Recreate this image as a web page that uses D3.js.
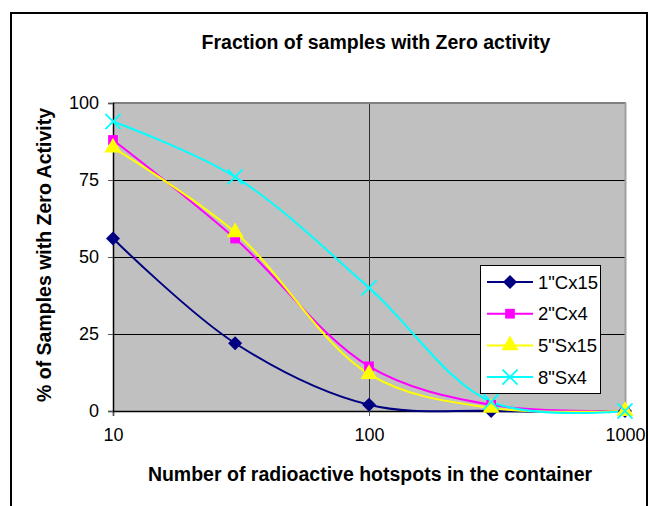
<!DOCTYPE html>
<html>
<head>
<meta charset="utf-8">
<script src="https://cdn.jsdelivr.net/npm/d3@7"></script>
<style>
  body { margin: 0; background: #fff; }
  svg { display: block; font-family: "Liberation Sans", Arial, sans-serif; }
</style>
</head>
<body>
<div id="chart"></div>
<script>
// Data
var xValues = [10, 30, 100, 300, 1000];
var seriesNames = ['1"Cx15', '2"Cx4', '5"Sx15', '8"Sx4'];
var cx15_1 = [56, 22, 2, 0, 0];
var cx4_2 = [88, 56, 14.5, 2, 0];
var sx15_5 = [85.5, 58, 12, 1, 0];
var sx4_8 = [94, 76, 40, 3, 0];
var xTicks = [10, 100, 1000];
var yTicks = [0, 25, 50, 75, 100];

var colors = ["#000080", "#ff00ff", "#ffff00", "#00ffff"];
var symbols = [d3.symbolDiamond2, d3.symbolSquare, d3.symbolTriangle, d3.symbolX];
var symSizes = [125, 95, 125, 150];

var series = [cx15_1, cx4_2, sx15_5, sx4_8].map(function(vals, i) {
  return { name: seriesNames[i], points: vals.map(function(v, j) { return [xValues[j], v]; }) };
});

var W = 650, H = 506;
var plot = { left: 113, top: 103, right: 625, bottom: 411 };

var svg = d3.select("#chart").append("svg")
  .attr("width", W).attr("height", H);

// outer frame
svg.append("rect")
  .attr("x", 11).attr("y", 13)
  .attr("width", 636).attr("height", 500)
  .attr("fill", "#fff").attr("stroke", "#000").attr("stroke-width", 2);

var x = d3.scaleLog().domain([10, 1000]).range([plot.left, plot.right]);
var y = d3.scaleLinear().domain([0, 100]).range([plot.bottom, plot.top]);

// plot area
svg.append("rect")
  .attr("x", plot.left).attr("y", plot.top)
  .attr("width", plot.right - plot.left).attr("height", plot.bottom - plot.top)
  .attr("fill", "#c0c0c0");

// gridlines
svg.append("g").selectAll("line")
  .data(yTicks.filter(function(d) { return d > 0 && d < 100; }))
  .enter().append("line")
  .attr("x1", plot.left).attr("x2", plot.right)
  .attr("y1", function(d) { return y(d); }).attr("y2", function(d) { return y(d); })
  .attr("stroke", "#000").attr("stroke-width", 1).attr("shape-rendering", "crispEdges");

svg.append("g").selectAll("line")
  .data(xTicks.filter(function(d) { return d > 10 && d < 1000; }))
  .enter().append("line")
  .attr("x1", function(d) { return x(d); }).attr("x2", function(d) { return x(d); })
  .attr("y1", plot.top).attr("y2", plot.bottom)
  .attr("stroke", "#333").attr("stroke-width", 1).attr("shape-rendering", "crispEdges");

// top and right borders of plot area
svg.append("line")
  .attr("x1", plot.left).attr("x2", plot.right + 1)
  .attr("y1", plot.top).attr("y2", plot.top)
  .attr("stroke", "#808080").attr("stroke-width", 2);
svg.append("line")
  .attr("x1", plot.right + 0.5).attr("x2", plot.right + 0.5)
  .attr("y1", plot.top).attr("y2", plot.bottom)
  .attr("stroke", "#a0a0a0").attr("stroke-width", 2);

// axes
var xAxis = svg.append("g")
  .attr("transform", "translate(0," + plot.bottom + ")")
  .call(d3.axisBottom(x).tickValues(xTicks).tickFormat(d3.format("d")).tickSize(5).tickPadding(12));
var yAxis = svg.append("g")
  .attr("transform", "translate(" + plot.left + ",0)")
  .call(d3.axisLeft(y).tickValues(yTicks).tickSize(5).tickPadding(9));

[xAxis, yAxis].forEach(function(ax) {
  ax.select(".domain").attr("stroke", "#000").attr("stroke-width", 1.5);
  ax.selectAll(".tick line").attr("stroke", "#555");
  ax.selectAll(".tick text")
    .attr("font-family", '"Liberation Sans", Arial, sans-serif')
    .attr("font-size", 18).attr("fill", "#000");
});

// series lines
var line = d3.line()
  .x(function(d) { return x(d[0]); })
  .y(function(d) { return y(d[1]); })
  .curve(d3.curveCatmullRom.alpha(0.5));

svg.append("g").selectAll("path")
  .data(series)
  .enter().append("path")
  .attr("d", function(d) { return line(d.points); })
  .attr("fill", "none")
  .attr("stroke", function(d, i) { return colors[i]; })
  .attr("stroke-width", 2);

// markers
function drawMarker(sel, i) {
  sel.append("path")
    .attr("d", d3.symbol().type(symbols[i]).size(symSizes[i]))
    .attr("fill", i === 3 ? "none" : colors[i])
    .attr("stroke", colors[i])
    .attr("stroke-width", i === 3 ? 1.8 : 0);
}

series.forEach(function(s, i) {
  s.points.forEach(function(p) {
    var g = svg.append("g").attr("transform", "translate(" + x(p[0]) + "," + y(p[1]) + ")");
    drawMarker(g, i);
  });
});

// legend
var legend = svg.append("g");
legend.append("rect")
  .attr("x", 480.5).attr("y", 265.5)
  .attr("width", 120).attr("height", 128)
  .attr("fill", "#fff").attr("stroke", "#000").attr("stroke-width", 1);

series.forEach(function(s, i) {
  var ly = 282 + i * 31.7;
  var g = legend.append("g").attr("transform", "translate(0," + ly + ")");
  g.append("line").attr("x1", 487).attr("x2", 533).attr("y1", 0).attr("y2", 0)
    .attr("stroke", colors[i]).attr("stroke-width", 2);
  drawMarker(g.append("g").attr("transform", "translate(510,0)"), i);
  g.append("text").attr("x", 538).attr("y", 6.5)
    .attr("font-size", 18.5).attr("fill", "#000").text(s.name);
});

// title and axis labels
svg.append("text")
  .attr("x", 376).attr("y", 49)
  .attr("text-anchor", "middle").attr("font-size", 19.5).attr("font-weight", "bold")
  .text("Fraction of samples with Zero activity");

svg.append("text")
  .attr("x", 370).attr("y", 481)
  .attr("text-anchor", "middle").attr("font-size", 19.5).attr("font-weight", "bold")
  .text("Number of radioactive hotspots in the container");

svg.append("text")
  .attr("transform", "translate(51,255) rotate(-90)")
  .attr("text-anchor", "middle").attr("font-size", 19.5).attr("font-weight", "bold")
  .text("% of Samples with Zero Activity");
</script>
</body>
</html>
